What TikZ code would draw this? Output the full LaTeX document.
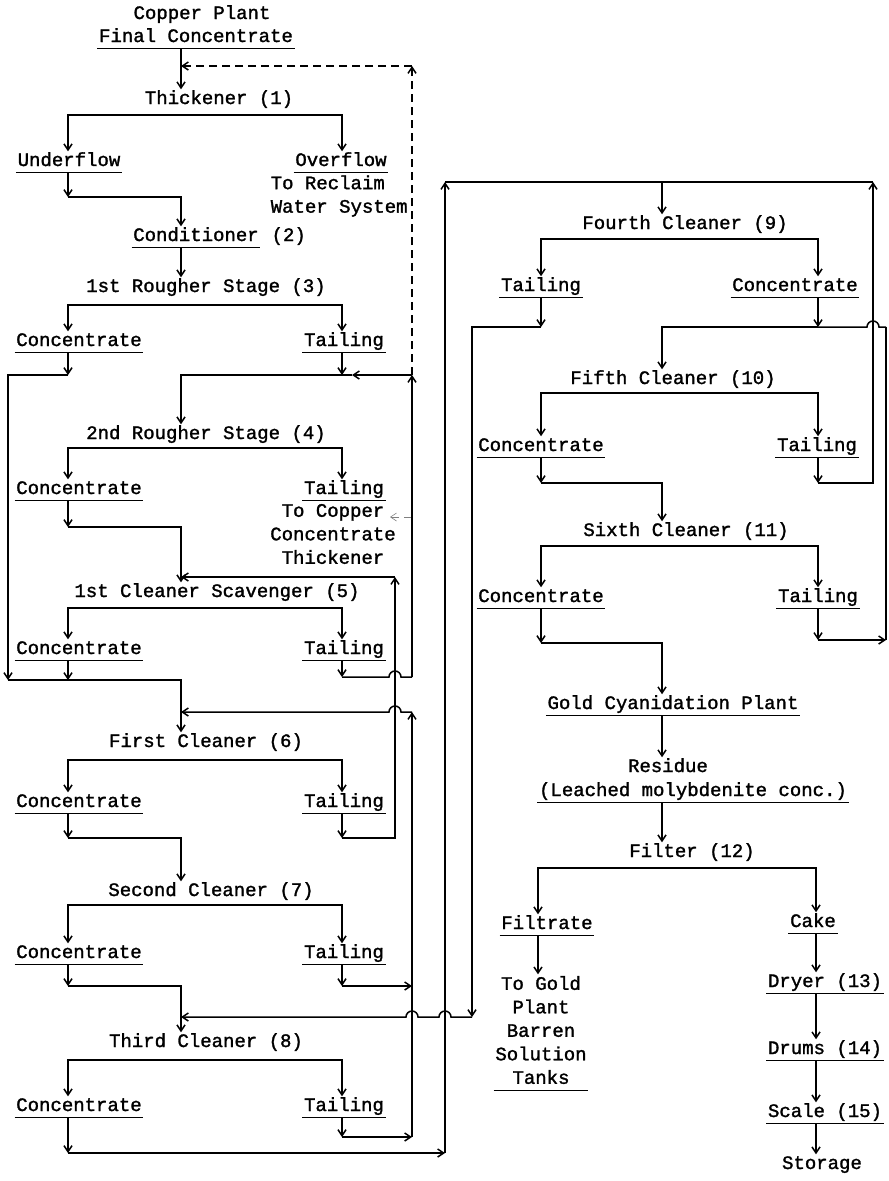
\documentclass[tikz,border=0pt]{standalone}
\usepackage{fontspec}
\newfontfamily\typewriter{Liberation Mono}[FakeBold=1.5]
\usetikzlibrary{arrows.meta,positioning}
\newcommand{\tw}{\typewriter\fontsize{19pt}{23.5pt}\selectfont}

\begin{document}
\begin{tikzpicture}[x=1pt,y=-1pt,line width=1.5pt,>={Straight Barb[length=6pt,width=8pt]},
    lbl/.style={font=\tw,inner sep=1pt,text height=13pt,text depth=5pt},
    ul/.style={lbl,append after command={(\tikzlastnode.south west) edge[line width=1.2pt,-] (\tikzlastnode.south east)}},
    blk/.style={font=\tw,inner sep=1pt,align=center},
    rec/.style={dash pattern=on 8pt off 5pt}]
    \fill[white] (0,0) rectangle (889,1181);
    \useasboundingbox (0,0) rectangle (889,1181);
    % columns of the connectors
    \coordinate (cE) at (8,0);   \coordinate (cL) at (68,0);  \coordinate (cM) at (181,0);
    \coordinate (cR) at (342,0); \coordinate (kL) at (541,0); \coordinate (kM) at (662,0);
    \coordinate (kR) at (818,0); \coordinate (fL) at (538,0); \coordinate (fR) at (816,0);

    % feed, thickener and conditioner
    \node[lbl] (cpp) at (202,15) {Copper Plant};
    \node[ul] (feed) at (196,38) {Final Concentrate};
    \node[lbl] (thk) at (219,100) {Thickener (1)};
    \node[ul] (uflow) at (69,162) {Underflow};
    \node[ul] (oflow) at (341,162) {Overflow};
    \node[blk,anchor=west,align=left] (rcl) at (269,196) {To Reclaim\\Water System};
    \node[ul] (cond) at (196,237) {Conditioner};
    \node[lbl,right=9.4pt of cond] (condn) {(2)};

    % left column stages
    \foreach \n/\txt/\xs/\ys/\yb/\yr in {3/1st Rougher Stage (3)/206/288/305/342,
        4/2nd Rougher Stage (4)/206/435/448/490, 5/1st Cleaner Scavenger (5)/217/593/608/650,
        6/First Cleaner (6)/206/743/760/803, 7/Second Cleaner (7)/211/892/905/954,
        8/Third Cleaner (8)/206/1043/1060/1107}{
        \node[lbl] (st\n) at (\xs,\ys) {\txt};
        \node[ul] (c\n) at (79,\yr) {Concentrate};
        \node[ul] (t\n) at (344,\yr) {Tailing};
        \draw[<->] (c\n.north -| cL) -- (68,\yb) -- (342,\yb) -- (t\n.north -| cR);
    }
    \node[blk] (cth) at (333,534) {To Copper\\Concentrate\\Thickener};
    \coordinate (cptr) at (390,517);

    % right column stages
    \node[lbl] (st9) at (685,225) {Fourth Cleaner (9)};
    \node[ul] (t9) at (541,287) {Tailing};
    \node[ul] (c9) at (795,287) {Concentrate};
    \node[lbl] (st10) at (673,380) {Fifth Cleaner (10)};
    \node[ul] (c10) at (541,447) {Concentrate};
    \node[ul] (t10) at (817,447) {Tailing};
    \node[lbl] (st11) at (686,532) {Sixth Cleaner (11)};
    \node[ul] (c11) at (541,598) {Concentrate};
    \node[ul] (t11) at (818,598) {Tailing};
    \node[ul] (gold) at (673,705) {Gold Cyanidation Plant};
    \node[lbl] (res) at (668,768) {Residue};
    \node[ul] (leach) at (693,792) {(Leached molybdenite conc.)};
    \node[lbl] (filt) at (692,853) {Filter (12)};
    \node[ul] (ftr) at (547,925) {Filtrate};
    \node[ul] (cake) at (813,923) {Cake};
    \node[blk] (gdst) at (541,1030) {To Gold\\Plant\\Barren\\Solution\\Tanks};
    \draw[line width=1.2pt] ([yshift=-5pt]gdst.south west) -- ([yshift=-5pt]gdst.south east);
    \node[ul] (dry) at (825,983) {Dryer (13)};
    \node[ul] (drm) at (825,1050) {Drums (14)};
    \node[ul] (scl) at (825,1113) {Scale (15)};
    \node[lbl] (sto) at (822,1165) {Storage};

    % feed to thickener, dashed return
    \draw[->] (feed.south -| cM) -- (thk.north -| cM);
    \draw[rec,->] (412,375) -- (412,66);
    \draw[rec,->] (412,66) -- (181,66);
    \draw[<->] (uflow.north -| cL) -- (68,115) -- (342,115) -- (oflow.north -| cR);
    \draw[->] (uflow.south -| cL) -- (68,197);
    \draw[->] (68,197) -- (181,197) -- (cond.north -| cM);
    \draw[->] (cond.south -| cM) -- (st3.north -| cM);

    % roughers
    \draw[->] (c3.south -| cL) -- (68,375);
    \draw[->] (68,375) -- (8,375) -- (8,680);
    \draw[->] (c5.south -| cL) -- (68,680);
    \draw[->] (8,680) -- (181,680) -- (st6.north -| cM);
    \draw[->] (t3.south -| cR) -- (342,375);
    \draw[->] (412,375) -- (352,375);
    \draw[->] (352,375) -- (181,375) -- (st4.north -| cM);
    \draw[->] (c4.south -| cL) -- (68,527);
    \draw[->] (68,527) -- (181,527) -- (st5.north -| cM);
    \draw[gray,rec,line width=0.6pt,->] (412,517) -- (cptr);

    % cleaner scavenger and first cleaner returns
    \draw[->] (t5.south -| cR) -- (342,677);
    \draw (342,677) -- (389,677) arc[start angle=180,end angle=0,radius=6pt] -- (412,677);
    \draw[->] (412,677) -- (412,375);
    \draw[->] (c6.south -| cL) -- (68,838);
    \draw[->] (68,838) -- (181,838) -- (st7.north -| cM);
    \draw[->] (t6.south -| cR) -- (342,838);
    \draw[->] (342,838) -- (395,838) -- (395,577);
    \draw[->] (395,577) -- (181,577);

    % second and third cleaner
    \draw[->] (c7.south -| cL) -- (68,986);
    \draw[->] (68,986) -- (181,986) -- (st8.north -| cM);
    \draw[->] (t7.south -| cR) -- (342,986);
    \draw[->] (342,986) -- (412,986);
    \draw[->] (t8.south -| cR) -- (342,1137);
    \draw[->] (342,1137) -- (412,1137);
    \draw[->] (412,1137) -- (412,712);
    \draw[->] (412,712) -- (401,712) arc[start angle=0,end angle=180,radius=6pt] -- (181,712);
    \draw[->] (c8.south -| cL) -- (68,1153);
    \draw[->] (68,1153) -- (445,1153);
    \draw[->] (445,1153) -- (445,182);
    \draw[->] (445,182) -- (662,182) -- (st9.north -| kM);

    % fourth, fifth and sixth cleaner
    \draw[<->] (t9.north -| kL) -- (541,239) -- (818,239) -- (c9.north -| kR);
    \draw[->] (t9.south -| kL) -- (541,327);
    \draw[->] (541,327) -- (472,327) -- (472,1017);
    \draw[->] (472,1017) -- (451,1017) arc[start angle=0,end angle=180,radius=6pt] -- (418,1017)
        arc[start angle=0,end angle=180,radius=6pt] -- (181,1017);
    \draw[->] (c9.south -| kR) -- (818,327);
    \draw[->] (818,327) -- (662,327) -- (st10.north -| kM);
    \draw[<->] (c10.north -| kL) -- (541,393) -- (818,393) -- (t10.north -| kR);
    \draw[->] (c10.south -| kL) -- (541,483);
    \draw[->] (541,483) -- (662,483) -- (st11.north -| kM);
    \draw[->] (t10.south -| kR) -- (818,483);
    \draw[->] (818,483) -- (873,483) -- (873,182);
    \draw (873,182) -- (662,182);
    \draw[<->] (c11.north -| kL) -- (541,546) -- (818,546) -- (t11.north -| kR);
    \draw[->] (c11.south -| kL) -- (541,643);
    \draw[->] (541,643) -- (662,643) -- (gold.north -| kM);
    \draw[->] (t11.south -| kR) -- (818,640);
    \draw[->] (818,640) -- (886,640);
    \draw (886,640) -- (886,327);
    \draw (886,327) -- (879,327) arc[start angle=0,end angle=180,radius=6pt] -- (818,327);

    % gold plant, filter and product
    \draw[->] (gold.south -| kM) -- (res.north -| kM);
    \draw[->] (leach.south -| kM) -- (filt.north -| kM);
    \draw[<->] (ftr.north -| fL) -- (538,868) -- (816,868) -- (cake.north -| fR);
    \draw[->] (ftr.south -| fL) -- (gdst.north -| fL);
    \draw[->] (cake.south -| fR) -- (dry.north -| fR);
    \draw[->] (dry.south -| fR) -- (drm.north -| fR);
    \draw[->] (drm.south -| fR) -- (scl.north -| fR);
    \draw[->] (scl.south -| fR) -- (sto.north -| fR);
\end{tikzpicture}
\end{document}
